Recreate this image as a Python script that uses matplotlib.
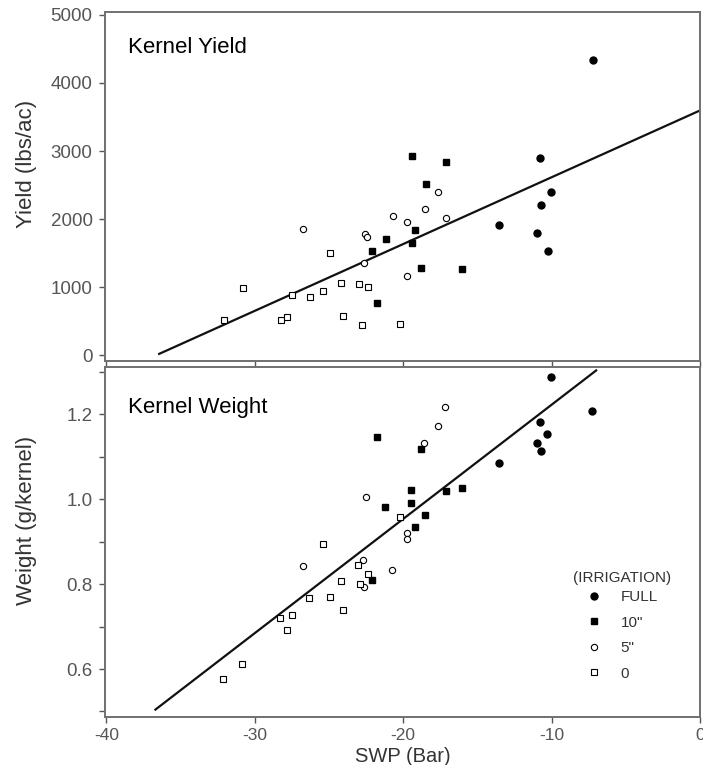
import matplotlib
matplotlib.use("Agg")
import matplotlib.pyplot as plt
import numpy as np

plt.rcParams["font.family"] = ["Liberation Sans", "DejaVu Sans"]
plt.rcParams["axes.unicode_minus"] = False

# SWP (Bar) and kernel yield (lbs/ac) / kernel weight (g/kernel), per irrigation level
full_swp_y = [-7.2, -10.75, -10.02, -10.7, -13.52, -10.98, -10.23]
full_yield = [4340, 2890, 2390, 2200, 1910, 1790, 1530]
in10_swp_y = [-19.42, -17.09, -18.44, -19.21, -21.15, -19.42, -22.09, -18.77, -16.03, -21.75]
in10_yield = [2920, 2840, 2520, 1835, 1710, 1650, 1530, 1285, 1260, 760]
in5_swp_y = [-17.63, -18.54, -20.71, -17.09, -19.76, -26.75, -22.6, -22.47, -22.66, -19.73]
in5_yield = [2390, 2150, 2040, 2020, 1960, 1860, 1775, 1730, 1355, 1155]
in0_swp_y = [-24.91, -30.81, -27.47, -26.31, -25.4, -24.21, -22.99, -22.35,
             -32.1, -28.27, -27.81, -24.08, -22.79, -20.2]
in0_yield = [1500, 985, 880, 850, 940, 1060, 1040, 1000, 520, 515, 560, 575, 440, 460]

full_swp_w = [-10.05, -7.28, -10.77, -10.31, -11.01, -10.7, -13.54]
full_weight = [1.287, 1.207, 1.182, 1.153, 1.131, 1.113, 1.085]
in10_swp_w = [-21.8, -18.8, -19.47, -17.09, -16.06, -21.21, -19.47, -18.51, -19.21, -22.11]
in10_weight = [1.147, 1.117, 1.021, 1.018, 1.025, 0.981, 0.991, 0.963, 0.934, 0.81]
in5_swp_w = [-17.17, -17.66, -18.57, -22.5, -19.76, -19.76, -26.77, -22.71, -20.74, -22.66]
in5_weight = [1.216, 1.173, 1.132, 1.004, 0.92, 0.906, 0.842, 0.857, 0.833, 0.794]
in0_swp_w = [-20.22, -25.4, -23.07, -22.37, -24.21, -22.89, -26.33, -24.96,
             -24.08, -28.3, -27.52, -27.81, -30.84, -32.16]
in0_weight = [0.959, 0.895, 0.846, 0.823, 0.807, 0.801, 0.768, 0.77,
              0.738, 0.721, 0.727, 0.693, 0.611, 0.576]

# regression lines (intercept, slope, x range)
yield_fit = (3596, 98.2, -36.45, 0.0)
weight_fit = (1.491, 0.02688, -36.7, -7.0)

legend_labels = ["FULL", '10"', '5"', "0"]

fig = plt.figure(figsize=(7.03, 7.65), dpi=100)
W, H = 703, 765
ax1 = fig.add_axes([105 / W, 1 - 361 / H, 595 / W, 349 / H])
ax2 = fig.add_axes([105 / W, 1 - 717 / H, 595 / W, 350 / H])

styles = [
    dict(marker="o", ms=5, mfc="black", mec="black"),
    dict(marker="s", ms=5, mfc="black", mec="black"),
    dict(marker="o", ms=4.5, mfc="white", mec="black", mew=0.8),
    dict(marker="s", ms=5, mfc="white", mec="black", mew=0.8),
]


def draw(ax, xs, ys, fit):
    b, m, x0, x1 = fit
    fx = np.array([x0, x1])
    ax.plot(fx, b + m * fx, color="#111111", lw=1.6, zorder=2)
    handles = []
    for x, y, st, lab in zip(xs, ys, styles, legend_labels):
        h, = ax.plot(x, y, ls="none", zorder=3, label=lab, **st)
        handles.append(h)
    for s in ax.spines.values():
        s.set_color("#707070")
        s.set_linewidth(1.4)
    ax.set_xlim(-40.1, 0)
    ax.set_xticks([-40, -30, -20, -10, 0])
    ax.tick_params(direction="out", length=4, width=1, color="#555555",
                   labelcolor="#555555")
    ax.tick_params(axis="x", labelsize=12.5, pad=4)
    ax.tick_params(axis="y", labelsize=13.5, pad=5)
    return handles


draw(ax1, [full_swp_y, in10_swp_y, in5_swp_y, in0_swp_y],
     [full_yield, in10_yield, in5_yield, in0_yield], yield_fit)
ax1.set_ylim(-88, 5044)
ax1.set_yticks([0, 1000, 2000, 3000, 4000, 5000])
ax1.tick_params(axis="x", labelbottom=False)
ax1.set_ylabel("Yield (lbs/ac)", fontsize=16, color="#333333")
ax1.yaxis.set_label_coords(-0.114, 0.564)
ax1.text(0.039, 0.897, "Kernel Yield", transform=ax1.transAxes,
         fontsize=16, va="center", ha="left")

handles = draw(ax2, [full_swp_w, in10_swp_w, in5_swp_w, in0_swp_w],
               [full_weight, in10_weight, in5_weight, in0_weight], weight_fit)
ax2.set_ylim(0.487, 1.311)
ax2.set_yticks([0.6, 0.8, 1.0, 1.2])
ax2.set_yticks([0.5, 0.7, 0.9, 1.1, 1.3], minor=True)
ax2.tick_params(which="minor", direction="out", length=4, width=1, color="#555555")
ax2.yaxis.set_major_formatter(matplotlib.ticker.FormatStrFormatter("%.1f"))
ax2.set_ylabel("Weight (g/kernel)", fontsize=16, color="#333333")
ax2.yaxis.set_label_coords(-0.114, 0.563)
ax2.set_xlabel("SWP (Bar)", fontsize=14.5, color="#333333")
ax2.xaxis.set_label_coords(0.5, -0.086)
ax2.text(0.039, 0.883, "Kernel Weight", transform=ax2.transAxes,
         fontsize=16, va="center", ha="left")

leg = ax2.legend(handles=handles, title="(IRRIGATION)", frameon=False,
                 loc="upper left", bbox_to_anchor=(0.774, 0.44),
                 fontsize=11, title_fontsize=11, labelspacing=0.75,
                 handletextpad=1.3, handlelength=0.9, borderpad=0)
leg._legend_box.sep = 4
for t in leg.get_texts():
    t.set_color("#333333")
leg.get_title().set_color("#333333")

fig.savefig("out.png", dpi=100)
